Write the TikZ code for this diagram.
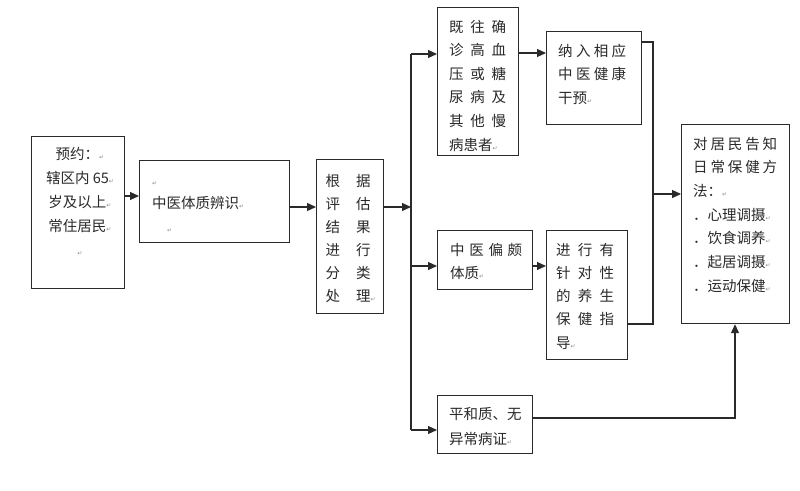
\documentclass[tikz,border=0pt]{standalone}
\usepackage{fontspec}
\setmainfont{Noto Sans CJK SC}
\newfontfamily\djv{DejaVu Sans}
\usetikzlibrary{arrows.meta}
\definecolor{ink}{HTML}{2A2A2A}
\newcommand\rt{{\djv\fontsize{6}{6}\selectfont\color{black!45}↵}}
\newcommand\spr[2]{\makebox[#1pt][s]{#2}}
\newcommand\tbl[2]{{\fontsize{14.5}{#1}\selectfont\begin{tabular}[t]{@{}l@{}}#2\end{tabular}}}
\newcommand\tbc[2]{{\fontsize{14.5}{#1}\selectfont\begin{tabular}[t]{@{}c@{}}#2\end{tabular}}}
\begin{document}
\begin{tikzpicture}[x=1pt,y=-1pt,
  box/.style={draw=ink,line width=1.2pt,inner sep=0pt,anchor=north west},
  txt/.style={inner sep=0pt,anchor=base west,text=ink},
  ln/.style={line width=1.2pt,draw=ink},
  arr/.style={line width=1.2pt,draw=ink,-{Triangle[length=9pt,width=8pt]}}]
\useasboundingbox[fill=white] (0,0) rectangle (800,490);
% boxes
\node[box,minimum width=93pt,minimum height=152pt] (A) at (31,136) {};
\node[box,minimum width=150pt,minimum height=82pt] (B) at (139,160) {};
\node[box,minimum width=67pt,minimum height=154pt] (C) at (316,159) {};
\node[box,minimum width=81pt,minimum height=148pt] (D) at (437,7) {};
\node[box,minimum width=95pt,minimum height=93pt] (G) at (546,31) {};
\node[box,minimum width=95pt,minimum height=59pt] (E) at (437,230) {};
\node[box,minimum width=81pt,minimum height=129pt] (I) at (546,230) {};
\node[box,minimum width=95pt,minimum height=58pt] (F) at (437,395) {};
\node[box,minimum width=108pt,minimum height=199pt] (H) at (681,124) {};
% texts
\node[txt,anchor=base] (tA) at (80,159) {\tbc{24}{预约：\rt\\辖区内 65\rt\\岁及以上\rt\\常住居民\rt\\\rt}};
\node[txt] (tB) at (152,185) {\tbl{23.5}{\rt\\中医体质辨识\rt\\\hspace{15pt}\rt}};
\node[txt] (tC) at (325.5,186) {\tbl{23}{\spr{45}{根\hfill 据}\\\spr{45}{评\hfill 估}\\\spr{45}{结\hfill 果}\\\spr{45}{进\hfill 行}\\\spr{45}{分\hfill 类}\\\spr{45}{处\hfill 理}\rt}};
\node[txt] (tD) at (449,32) {\tbl{23.6}{\spr{57}{既\hfill 往\hfill 确}\\\spr{57}{诊\hfill 高\hfill 血}\\\spr{57}{压\hfill 或\hfill 糖}\\\spr{57}{尿\hfill 病\hfill 及}\\\spr{57}{其\hfill 他\hfill 慢}\\病患者\rt}};
\node[txt] (tG) at (558,56) {\tbl{23.5}{\spr{68}{纳\hfill 入\hfill 相\hfill 应}\\\spr{68}{中\hfill 医\hfill 健\hfill 康}\\干预\rt}};
\node[txt] (tE) at (450,255) {\tbl{23}{\spr{72}{中\hfill 医\hfill 偏\hfill 颇}\\体质\rt}};
\node[txt] (tI) at (556,255) {\tbl{23.25}{\spr{58}{进\hfill 行\hfill 有}\\\spr{58}{针\hfill 对\hfill 性}\\\spr{58}{的\hfill 养\hfill 生}\\\spr{58}{保\hfill 健\hfill 指}\\导\rt}};
\node[txt] (tF) at (449,419) {\tbl{25}{平和质、无\\异常病证\rt}};
\node[txt] (tH) at (693,149) {\tbl{23.7}{\spr{84}{对\hfill 居\hfill 民\hfill 告\hfill 知}\\\spr{84}{日\hfill 常\hfill 保\hfill 健\hfill 方}\\法：\rt\\．心理调摄\rt\\．饮食调养\rt\\．起居调摄\rt\\．运动保健\rt}};
% helper coordinates
\coordinate (y1) at (0,196);
\coordinate (y2) at (0,207);
\coordinate (yDG) at (0,53);
\coordinate (tTop) at (411,54);
\coordinate (tMid) at (411,207);
\coordinate (tE) at (411,266);
\coordinate (tBot) at (411,430);
\coordinate (c1) at (653,42);
\coordinate (c2) at (653,324);
\coordinate (c3) at (653,194);
\coordinate (c4) at (735,418);
% connectors
\draw[arr] (A.east |- y1) -- (B.west |- y1);
\draw[arr] (B.east |- y2) -- (C.west |- y2);
\draw[arr] (C.east |- y2) -- (tMid);
\draw[ln] (tTop) -- (tBot);
\draw[arr] (tTop) -- (D.west |- tTop);
\draw[arr] (tE) -- (E.west |- tE);
\draw[arr] (tBot) -- (F.west |- tBot);
\draw[arr] (D.east |- yDG) -- (G.west |- yDG);
\draw[arr] (E.east |- tE) -- (I.west |- tE);
\draw[ln] (G.east |- c1) -- (c1) -- (c2) -- (I.east |- c2);
\draw[arr] (c3) -- (H.west |- c3);
\draw[arr] (F.east |- c4) -- (c4) -- (c4 |- H.south);
\end{tikzpicture}
\end{document}
